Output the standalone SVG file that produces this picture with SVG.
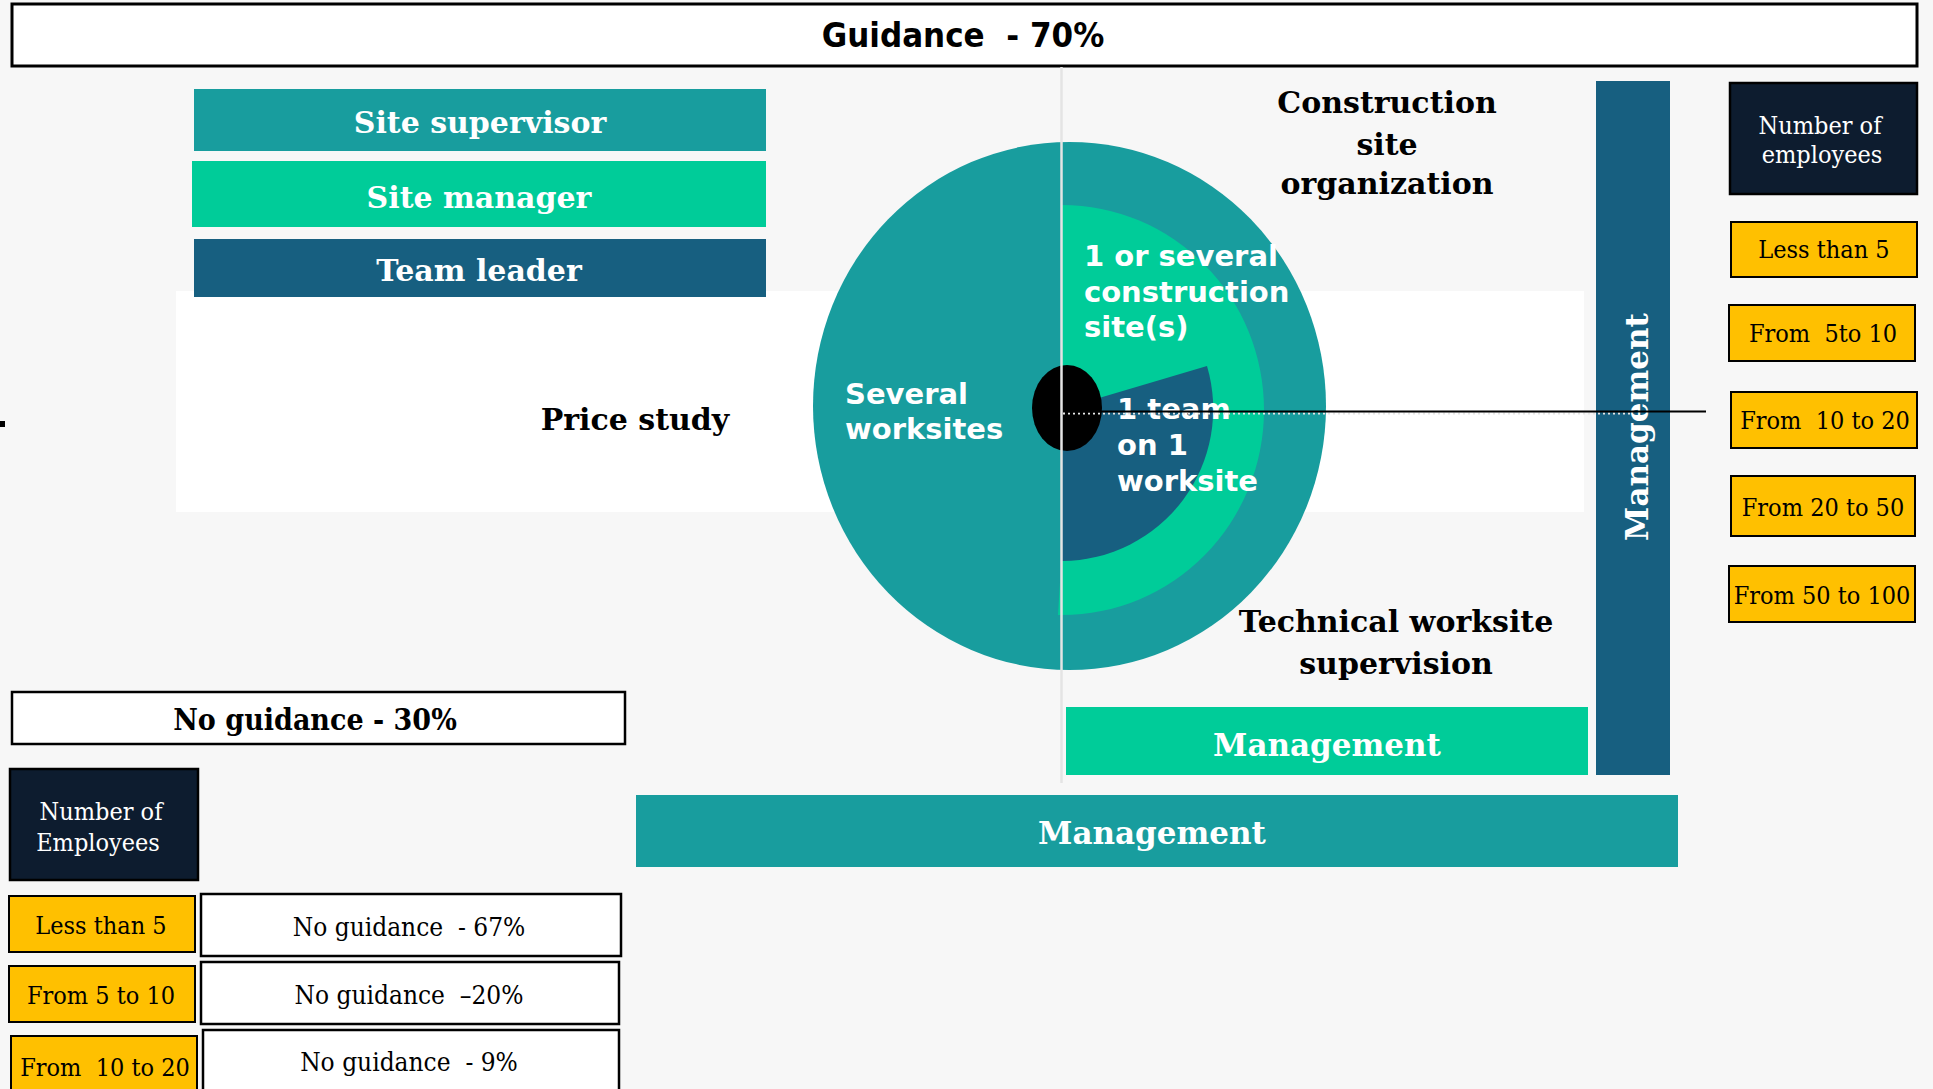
<svg xmlns="http://www.w3.org/2000/svg" width="1933" height="1089" viewBox="0 0 1933 1089">
<style>
.hb{font-family:"DejaVu Serif",serif;font-weight:bold;fill:#fff;text-anchor:middle}
.hk{font-family:"DejaVu Serif",serif;font-weight:bold;fill:#000;text-anchor:middle}
.rg{font-family:"DejaVu Serif Condensed","DejaVu Serif",serif;font-stretch:condensed;fill:#000;text-anchor:middle;white-space:pre}
.rw{font-family:"DejaVu Serif Condensed","DejaVu Serif",serif;font-stretch:condensed;fill:#fff;text-anchor:middle}
.vs{font-family:"DejaVu Sans",sans-serif;font-weight:bold;fill:#fff;font-size:29px}
.yel{fill:#FFC000;stroke:#000;stroke-width:2}
.wb{fill:#fff;stroke:#000;stroke-width:2.5}
.navy{fill:#0D1C2F;stroke:#000;stroke-width:2.5}
</style>
<rect x="0" y="0" width="1933" height="1089" fill="#F7F7F7"/>
<rect x="0" y="421" width="5" height="6" fill="#000"/>
<rect x="176" y="291" width="1408" height="221" fill="#fff"/>

<g id="guidance">
<rect x="12" y="4" width="1905" height="62" fill="#fff" stroke="#000" stroke-width="3"/>
<text x="963" y="47" xml:space="preserve" style="white-space:pre" font-family="DejaVu Sans Condensed, DejaVu Sans, sans-serif" font-stretch="condensed" font-weight="bold" font-size="34.5" text-anchor="middle" fill="#000">Guidance  - 70%</text>
</g>

<g id="site-supervisor">
<rect x="194" y="89" width="572" height="62" fill="#189D9E"/>
<text class="hb" x="480" y="133" font-size="30">Site supervisor</text>
</g>
<g id="site-manager">
<rect x="192" y="161" width="574" height="66" fill="#00CC99"/>
<text class="hb" x="479" y="208" font-size="30">Site manager</text>
</g>
<g id="team-leader">
<rect x="194" y="239" width="572" height="58" fill="#175F80"/>
<text class="hb" x="479" y="281" font-size="30">Team leader</text>
</g>

<g id="price-study">
<text class="hk" x="635" y="430" font-size="30">Price study</text>
</g>

<g id="circle">
<ellipse cx="1069.5" cy="406" rx="256.5" ry="264" fill="#189D9E"/>
<path d="M1062,205 A202,205 0 0 1 1062,615 L1058,615 L1062,549 Z" fill="#00CC99"/>
<path d="M1062,409 L1207,366 A152,152 0 0 1 1062,561 Z" fill="#175F80"/>
<ellipse cx="1067" cy="408" rx="35" ry="43" fill="#000"/>
<text class="vs" x="845" y="404">Several</text>
<text class="vs" x="845" y="439">worksites</text>
<text class="vs" x="1084" y="266">1 or several</text>
<text class="vs" x="1084" y="302">construction</text>
<text class="vs" x="1084" y="337">site(s)</text>
<text class="vs" x="1117" y="419">1 team</text>
<text class="vs" x="1117" y="455">on 1</text>
<text class="vs" x="1117" y="491">worksite</text>
</g>

<g id="construction-site-organization">
<text class="hk" x="1387" y="113" font-size="30">Construction</text>
<text class="hk" x="1387" y="155" font-size="30">site</text>
<text class="hk" x="1387" y="194" font-size="30">organization</text>
</g>
<g id="technical-worksite-supervision">
<text class="hk" x="1396" y="632" font-size="30">Technical worksite</text>
<text class="hk" x="1396" y="674" font-size="30">supervision</text>
</g>

<g id="management-vertical">
<rect x="1596" y="81" width="74" height="694" fill="#175F80"/>
<text class="hb" font-size="31" transform="translate(1648,427) rotate(-90)">Management</text>
</g>
<g id="management-green">
<rect x="1066" y="707" width="522" height="68" fill="#00CC99"/>
<text class="hb" x="1327" y="756" font-size="31">Management</text>
</g>
<g id="management-teal">
<rect x="636" y="795" width="1042" height="72" fill="#189D9E"/>
<text class="hb" x="1152" y="844" font-size="31">Management</text>
</g>

<g id="connectors">
<line x1="1061.5" y1="67" x2="1061.5" y2="783" stroke="#e4e4e4" stroke-width="2.5"/>
<line x1="1063" y1="413.5" x2="1632" y2="413.5" stroke="#e6e6e6" stroke-width="2.2" stroke-dasharray="2,3"/>
<line x1="1067" y1="411.5" x2="1706" y2="411.5" stroke="#000" stroke-width="2.2"/>
</g>

<g id="number-employees-right">
<rect class="navy" x="1730" y="83" width="187" height="111"/>
<text class="rw" x="1820" y="134" font-size="25">Number of</text>
<text class="rw" x="1822" y="163" font-size="25">employees</text>
</g>
<g id="r-less-5">
<rect class="yel" x="1731" y="222" width="186" height="55"/>
<text class="rg" x="1824" y="258" font-size="25">Less than 5</text>
</g>
<g id="r-5-10">
<rect class="yel" x="1729" y="305" width="186" height="56"/>
<text class="rg" x="1823" y="342" font-size="25">From  5to 10</text>
</g>
<g id="r-10-20">
<rect class="yel" x="1731" y="392" width="186" height="56"/>
<text class="rg" x="1825" y="429" font-size="25">From  10 to 20</text>
</g>
<g id="r-20-50">
<rect class="yel" x="1731" y="476" width="184" height="60"/>
<text class="rg" x="1823" y="516" font-size="25">From 20 to 50</text>
</g>
<g id="r-50-100">
<rect class="yel" x="1729" y="566" width="186" height="56"/>
<text class="rg" x="1822" y="604" font-size="25">From 50 to 100</text>
</g>

<g id="no-guidance">
<rect class="wb" x="12" y="692" width="613" height="52"/>
<text x="315" y="730" font-family="DejaVu Serif Condensed, DejaVu Serif, serif" font-stretch="condensed" font-weight="bold" font-size="30" text-anchor="middle" fill="#000">No guidance - 30%</text>
</g>
<g id="number-employees-left">
<rect class="navy" x="10" y="769" width="188" height="111"/>
<text class="rw" x="101" y="820" font-size="25">Number of</text>
<text class="rw" x="98" y="851" font-size="25">Employees</text>
</g>
<g id="l-less-5">
<rect class="yel" x="9" y="896" width="186" height="56"/>
<text class="rg" x="101" y="934" font-size="25">Less than 5</text>
</g>
<g id="ng-67">
<rect class="wb" x="201" y="894" width="420" height="62"/>
<text class="rg" x="409" y="936" font-size="26" xml:space="preserve">No guidance  - 67%</text>
</g>
<g id="l-5-10">
<rect class="yel" x="9" y="966" width="186" height="56"/>
<text class="rg" x="101" y="1004" font-size="25">From 5 to 10</text>
</g>
<g id="ng-20">
<rect class="wb" x="201" y="962" width="418" height="62"/>
<text class="rg" x="409" y="1004" font-size="26" xml:space="preserve">No guidance  –20%</text>
</g>
<g id="l-10-20">
<rect class="yel" x="11" y="1036" width="186" height="70"/>
<text class="rg" x="105" y="1076" font-size="25" xml:space="preserve">From  10 to 20</text>
</g>
<g id="ng-9">
<rect class="wb" x="203" y="1030" width="416" height="76"/>
<text class="rg" x="409" y="1071" font-size="26" xml:space="preserve">No guidance  - 9%</text>
</g>
</svg>
